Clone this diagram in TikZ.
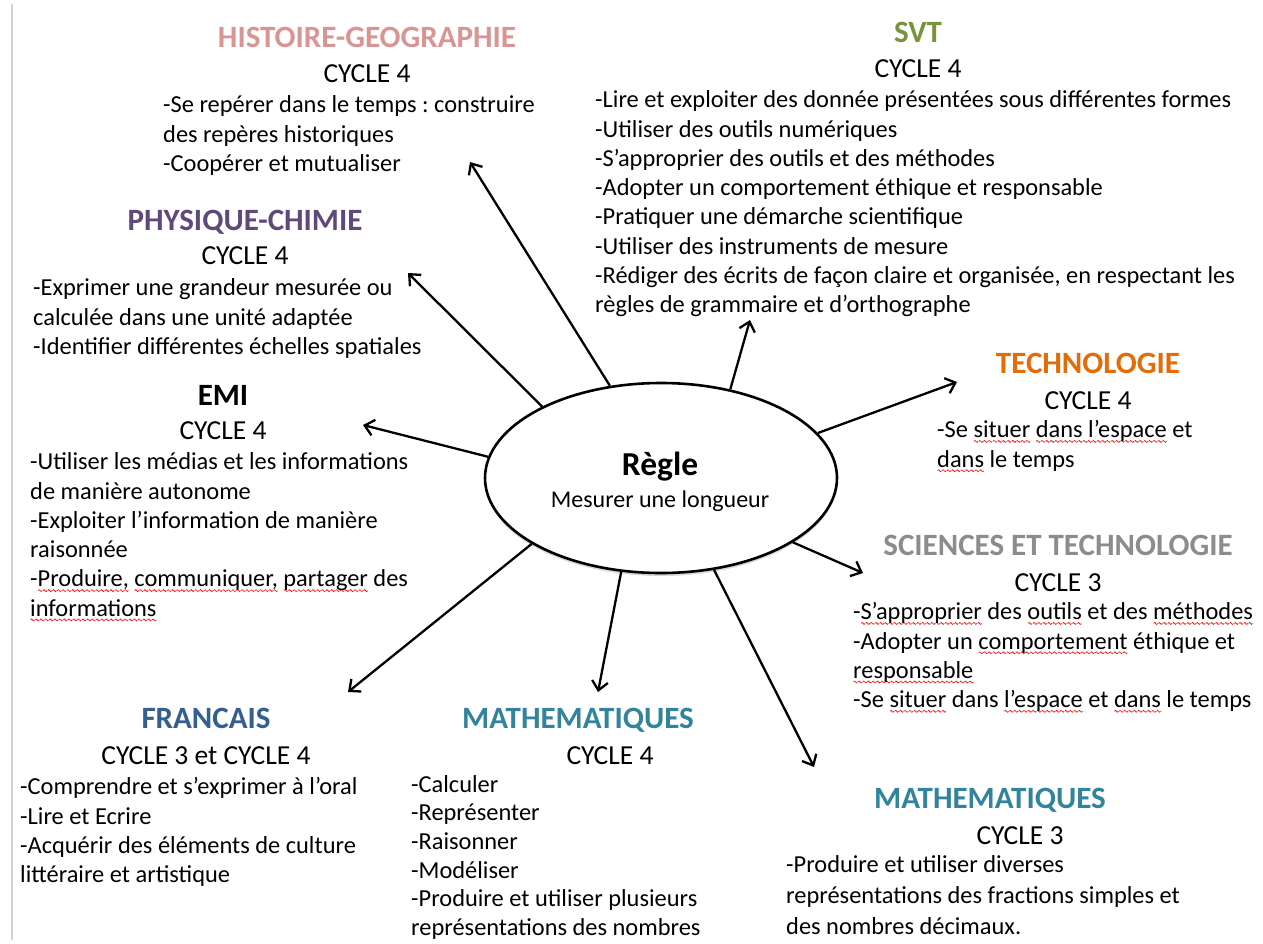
\documentclass[tikz,border=0pt]{standalone}
\usepackage{fontspec}
\setmainfont{Carlito}
\usetikzlibrary{shapes.geometric,arrows.meta,shadows}
\definecolor{histcol}{HTML}{D99594}
\definecolor{svtcol}{HTML}{77933C}
\definecolor{pccol}{HTML}{5F497A}
\definecolor{techcol}{HTML}{E36C09}
\definecolor{scicol}{HTML}{8C8C8C}
\definecolor{frcol}{HTML}{365F91}
\definecolor{mathcol}{HTML}{31849B}
\newsavebox\vague
\newcommand\fautes[1]{\leavevmode\setbox0\hbox{#1}\rlap{\lower5pt\hbox to\wd0{\xleaders\copy\vague\hfill}}\box0\relax}
\tikzset{
	matiere/.style={font=\fontsize{31}{37}\selectfont\bfseries,text=#1,anchor=base,inner sep=0pt},
	niveau/.style={font=\fontsize{27.5}{33}\selectfont,anchor=base,inner sep=0pt},
	liste/.style={font=\fontsize{24.4}{29.3}\selectfont,align=left,anchor=north west,inner sep=0pt},
	fleche/.style={-{Straight Barb[length=9pt,width=16pt]},line width=2.3pt}
}
\frenchspacing
\begin{document}
\sbox\vague{\pgfpicture
	\pgfpathmoveto{\pgfpoint{0pt}{0pt}}
	\pgfpathsine{\pgfpoint{1pt}{1pt}}\pgfpathcosine{\pgfpoint{1pt}{-1pt}}
	\pgfpathsine{\pgfpoint{1pt}{-1pt}}\pgfpathcosine{\pgfpoint{1pt}{1pt}}
	\pgfsetlinewidth{0.6pt}\pgfsetstrokecolor{red}\pgfusepath{stroke}
	\endpgfpicture}
\begin{tikzpicture}[x=1pt,y=-1pt]
	\fill[white] (0,0) rectangle (1263,943);
	\useasboundingbox (0,0) rectangle (1263,943);
	\draw[gray!35,line width=2.5pt] (12,4) -- (12,940);

	% centre
	\node[draw,ellipse,fill=white,line width=2.6pt,minimum width=352pt,minimum height=190pt,
		drop shadow={shadow xshift=0pt,shadow yshift=-3pt,opacity=0.3}] (regle) at (661,478) {};
	\node[font=\fontsize{33.5}{40}\selectfont\bfseries,anchor=base,inner sep=0pt] (nom) at (660,475) {Règle};
	\node[font=\fontsize{24}{29}\selectfont,anchor=base,inner sep=0pt] (usage) at (660,507) {Mesurer une longueur};

	% histoire-geographie
	\node[matiere=histcol] (hist) at (367,47) {HISTOIRE-GEOGRAPHIE};
	\node[niveau] (histcyc) at (367,82) {CYCLE 4};
	\node[liste] (histlist) at (163,92) {\strut-Se repérer dans le temps : construire\\des repères historiques\\-Coopérer et mutualiser};

	% svt
	\node[matiere=svtcol] (svt) at (918,42) {SVT};
	\node[niveau] (svtcyc) at (918,77) {CYCLE 4};
	\node[liste] (svtlist) at (595,87) {\strut-Lire et exploiter des donnée présentées sous différentes formes\\-Utiliser des outils numériques\\-S’approprier des outils et des méthodes\\-Adopter un comportement éthique et responsable\\-Pratiquer une démarche scientifique\\-Utiliser des instruments de mesure\\-Rédiger des écrits de façon claire et organisée, en respectant les\\règles de grammaire et d’orthographe};

	% physique-chimie
	\node[matiere=pccol] (pc) at (245,230) {PHYSIQUE-CHIMIE};
	\node[niveau] (pccyc) at (245,264) {CYCLE 4};
	\node[liste] (pclist) at (33,275) {\strut-Exprimer une grandeur mesurée ou\\calculée dans une unité adaptée\\-Identifier différentes échelles spatiales};

	% emi
	\node[matiere=black] (emi) at (223,405) {EMI};
	\node[niveau] (emicyc) at (223,439) {CYCLE 4};
	\node[liste] (emilist) at (30,449) {\strut-Utiliser les médias et les informations\\de manière autonome\\-Exploiter l’information de manière\\raisonnée\\-\fautes{Produire,} \fautes{communiquer,} \fautes{partager} des\\\fautes{informations}};

	% technologie
	\node[matiere=techcol] (tech) at (1088,373) {TECHNOLOGIE};
	\node[niveau] (techcyc) at (1088,409) {CYCLE 4};
	\node[liste] (techlist) at (937,417) {\strut-Se \fautes{situer} \fautes{dans l’espace} et\\\fautes{dans} le temps};

	% sciences et technologie
	\node[matiere=scicol] (sci) at (1058,555) {SCIENCES ET TECHNOLOGIE};
	\node[niveau] (scicyc) at (1058,591) {CYCLE 3};
	\node[liste] (scilist) at (853,599) {\strut-\fautes{S’approprier} des \fautes{outils} et des \fautes{méthodes}\\-Adopter un \fautes{comportement} éthique et\\\fautes{responsable}\\-Se \fautes{situer} dans \fautes{l'espace} et \fautes{dans} le temps};

	% francais
	\node[matiere=frcol] (fr) at (206,728) {FRANCAIS};
	\node[niveau] (frcyc) at (206,764) {CYCLE 3 et CYCLE 4};
	\node[liste] (frlist) at (20,774) {\strut-Comprendre et s’exprimer à l’oral\\-Lire et Ecrire\\-Acquérir des éléments de culture\\littéraire et artistique};

	% mathematiques cycle 4
	\node[matiere=mathcol] (mathq) at (578,728) {MATHEMATIQUES};
	\node[niveau] (mathqcyc) at (610,764) {CYCLE 4};
	\node[liste,font=\fontsize{24.4}{28.6}\selectfont] (mathqlist) at (411,772) {\strut-Calculer\\-Représenter\\-Raisonner\\-Modéliser\\-Produire et utiliser plusieurs\\représentations des nombres};

	% mathematiques cycle 3
	\node[matiere=mathcol] (matht) at (990,808) {MATHEMATIQUES};
	\node[niveau] (mathtcyc) at (1020,844) {CYCLE 3};
	\node[liste,font=\fontsize{24.4}{31}\selectfont] (mathtlist) at (786,851) {\strut-Produire et utiliser diverses\\représentations des fractions simples et\\des nombres décimaux.};

	% bouts des fleches
	\coordinate (histpt) at (470,162);
	\coordinate (svtpt) at (750,320);
	\coordinate (pcpt) at (408,273);
	\coordinate (emipt) at (363,425);
	\coordinate (techpt) at (957,382);
	\coordinate (scipt) at (863,573);
	\coordinate (frpt) at (348,692);
	\coordinate (mathqpt) at (598,692);
	\coordinate (mathtpt) at (814,767);

	\draw[fleche] (regle.119) -- (histpt);
	\draw[fleche] (regle.52) -- (svtpt);
	\draw[fleche] (regle.149) -- (pcpt);
	\draw[fleche] (regle.173) -- (emipt);
	\draw[fleche] (regle.16) -- (techpt);
	\draw[fleche] (regle.334) -- (scipt);
	\draw[fleche] (regle.207) -- (frpt);
	\draw[fleche] (regle.247) -- (mathqpt);
	\draw[fleche] (regle.300) -- (mathtpt);
\end{tikzpicture}
\end{document}
